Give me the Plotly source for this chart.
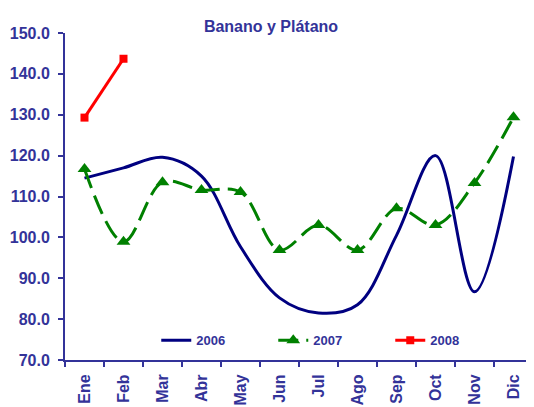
import plotly.graph_objects as go

months = ["Ene", "Feb", "Mar", "Abr", "May", "Jun", "Jul", "Ago", "Sep", "Oct", "Nov", "Dic"]
s2006 = [114.5, 117.0, 119.6, 115.0, 97.7, 85.2, 81.5, 83.5, 100.5, 120.0, 86.7, 119.8]
s2007 = [116.7, 98.9, 113.5, 111.6, 111.1, 96.9, 103.0, 96.9, 107.1, 103.0, 113.3, 129.4]
s2008 = [129.3, 143.7]
y_ticks = [70, 80, 90, 100, 110, 120, 130, 140, 150]

axis_color = "#333399"
font_family = "Liberation Sans, Arial, sans-serif"

fig = go.Figure()
fig.add_trace(go.Scatter(
    x=months, y=s2006, name="2006", mode="lines",
    line=dict(color="#000080", width=3, shape="spline", smoothing=1.0),
))
fig.add_trace(go.Scatter(
    x=months, y=s2007, name="2007", mode="lines+markers",
    line=dict(color="#008000", width=3, dash="20px,8px", shape="spline", smoothing=1.0),
    marker=dict(symbol="triangle-up", size=12, color="#008000"),
))
fig.add_trace(go.Scatter(
    x=months[:2], y=s2008, name="2008", mode="lines+markers",
    line=dict(color="#FF0000", width=3),
    marker=dict(symbol="square", size=8, color="#FF0000"),
))

# page body has an 8px default margin; figure sized to fit the 534x407 window
fig.update_layout(
    width=526, height=399,
    margin=dict(l=57, r=1, t=25, b=47),
    paper_bgcolor="white", plot_bgcolor="white",
    font=dict(family=font_family, color=axis_color, size=14),
    title=dict(text="Banano y Plátano", x=0.5, xanchor="center",
               y=0.955, yanchor="middle",
               font=dict(size=16, color=axis_color, weight="bold")),
    showlegend=True,
    legend=dict(orientation="h", x=0.195, xanchor="left", y=0.06, yanchor="middle",
                bgcolor="rgba(0,0,0,0)",
                font=dict(size=13, color=axis_color, weight="bold"),
                entrywidth=72, itemwidth=30),
    xaxis=dict(
        type="category", categoryorder="array", categoryarray=months,
        showline=True, linecolor=axis_color, linewidth=2,
        ticks="outside", tickson="boundaries", ticklen=5, tickcolor=axis_color, tickwidth=1.5,
        tickangle=-90, showgrid=False, zeroline=False, automargin=False,
        ticklabelstandoff=6,
        tickfont=dict(size=16, color=axis_color, weight="bold"),
        range=[-0.5, 11.5],
    ),
    yaxis=dict(
        range=[70, 150], tickvals=y_ticks, ticktext=[f"{v:.1f}" for v in y_ticks],
        showline=True, linecolor=axis_color, linewidth=2,
        ticks="outside", ticklen=5, tickcolor=axis_color, tickwidth=1.5,
        showgrid=False, zeroline=False, automargin=False,
        ticklabelstandoff=5,
        tickfont=dict(size=16, color=axis_color, weight="bold"),
    ),
)

fig.write_html("out.html")
